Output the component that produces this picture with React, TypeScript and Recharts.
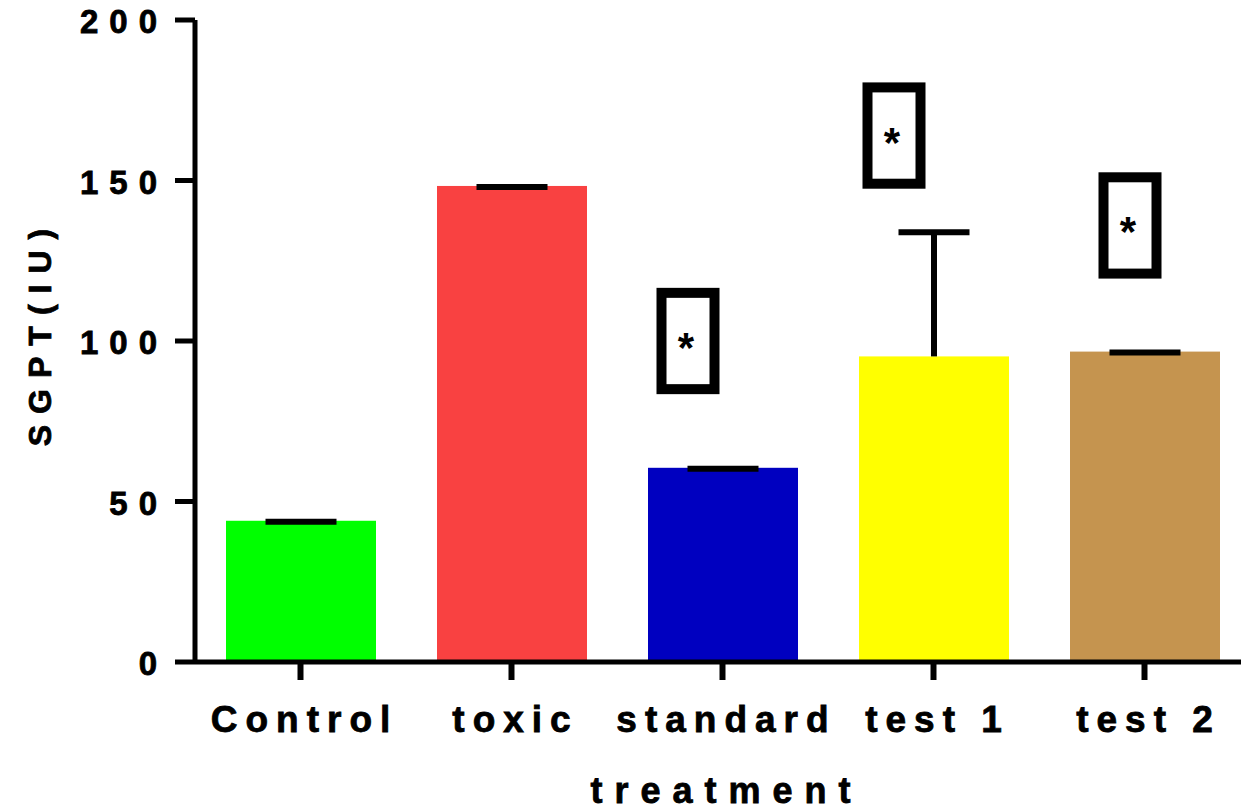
import React from "react";
import { BarChart, Bar, XAxis, YAxis, Label } from "recharts";

// values
const treatments = ["Control", "toxic", "standard", "test 1", "test 2"];
const sgpt = [44.0, 148.3, 60.5, 95.2, 96.7];
const sgptErr = [0, 0, 0, 39.0, 0];
// significance boxes: centre value (IU) and half height (IU); null = none
const sigCenter: (number | null)[] = [null, null, 100, 164, 136];
const sigHalf = 15;
const yTicks = [0, 50, 100, 150, 200];

// styling
const barColors = ["#00ff00", "#f94141", "#0000c0", "#ffff00", "#c5944f"];
const boxShift = [0, 0, -35, -40, -15];
const FONT = "'Liberation Sans', Arial, sans-serif";
const textStyle = { fontFamily: FONT, fontWeight: "bold" as const, fill: "#000", stroke: "#000", strokeWidth: 0.8 };

const data = treatments.map((name, i) => ({
  name,
  sgpt: sgpt[i],
  err: sgptErr[i],
  sig: sigCenter[i],
}));

const BarShape = (props: any) => {
  const { x, y, width, height, index, payload } = props;
  const base = y + height;
  const ppu = height / payload.sgpt;
  const cx = x + width / 2;
  const errTop = y - payload.err * ppu + 1;
  const parts: React.ReactNode[] = [
    <rect key="r" x={x} y={y} width={width} height={height} fill={barColors[index]} />,
    <line key="e" x1={cx} x2={cx} y1={y} y2={errTop} stroke="#000" strokeWidth={6} />,
    <line key="c" x1={cx - 35.5} x2={cx + 35.5} y1={errTop} y2={errTop} stroke="#000" strokeWidth={6} />,
  ];
  if (payload.sig != null) {
    const by = base - payload.sig * ppu;
    const bh = sigHalf * ppu;
    const bx = cx + boxShift[index];
    parts.push(
      <rect key="b" x={bx - 26.5} y={by - bh} width={53} height={bh * 2} fill="none" stroke="#000" strokeWidth={10} />,
      <text key="s" x={bx - 2} y={by + 21} textAnchor="middle" fontFamily={FONT} fontWeight="bold" fontSize={42} fill="#000">*</text>
    );
  }
  return <g>{parts}</g>;
};

const XTick = (props: any) => {
  const { x, y, payload } = props;
  return (
    <text x={x + 4} y={y + 50} textAnchor="middle" fontSize={37} letterSpacing={8} {...textStyle}>
      {payload.value}
    </text>
  );
};

const YTick = (props: any) => {
  const { x, y, payload } = props;
  return (
    <text x={x - 5} y={y + 13} textAnchor="end" fontSize={33} letterSpacing={11} {...textStyle}>
      {payload.value}
    </text>
  );
};

const YTitle = (props: any) => {
  const vb = props.viewBox;
  const tx = vb.x + 51;
  const ty = vb.y + vb.height / 2 - 3;
  return (
    <text x={tx} y={ty} dx={6} transform={`rotate(-90 ${tx} ${ty})`} textAnchor="middle" fontSize={32} letterSpacing={11} {...textStyle}>
      SGPT(IU)
    </text>
  );
};

const XTitle = (props: any) => {
  const vb = props.viewBox;
  return (
    <text x={vb.x + vb.width / 2 - 2} y={vb.y + 141} dx={6} textAnchor="middle" fontSize={36} letterSpacing={12} {...textStyle}>
      treatment
    </text>
  );
};

export default function App() {
  return (
    <div style={{ position: "fixed", top: 0, left: 0, width: 1241, height: 810, overflow: "hidden", background: "#fff" }}>
      <BarChart width={1250} height={810} data={data} margin={{ top: 20, right: 0, bottom: 0, left: 0 }}>
        <XAxis
          dataKey="name"
          height={148}
          axisLine={{ stroke: "#000", strokeWidth: 5 }}
          tickLine={{ stroke: "#000", strokeWidth: 6 }}
          tickSize={18}
          tick={<XTick />}
          interval={0}
        >
          <Label content={<XTitle />} />
        </XAxis>
        <YAxis
          width={195}
          domain={[0, 200]}
          ticks={yTicks}
          axisLine={{ stroke: "#000", strokeWidth: 5 }}
          tickLine={{ stroke: "#000", strokeWidth: 5 }}
          tickSize={20}
          tick={<YTick />}
          interval={0}
        >
          <Label content={<YTitle />} />
        </YAxis>
        <Bar dataKey="sgpt" barSize={150} shape={<BarShape />} isAnimationActive={false} />
      </BarChart>
    </div>
  );
}
